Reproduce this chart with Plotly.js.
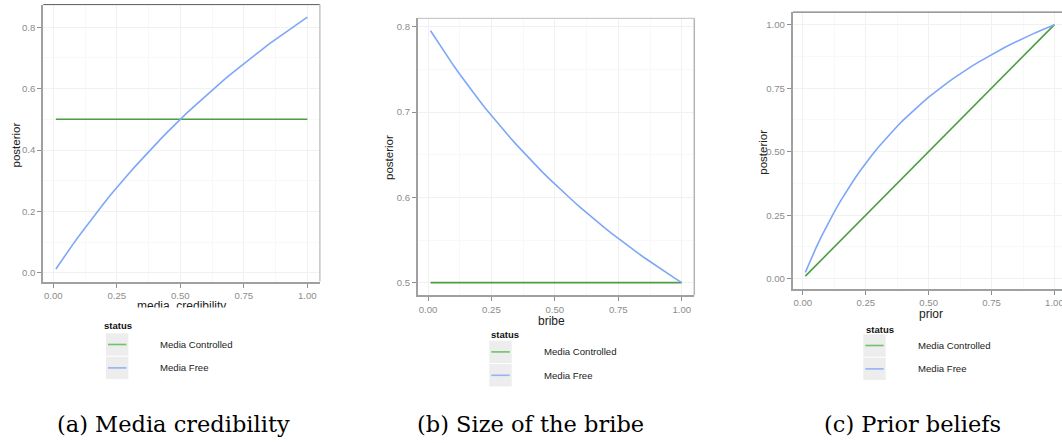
<!DOCTYPE html>
<html><head><meta charset="utf-8">
<script src="https://cdn.plot.ly/plotly-3.0.1.min.js"></script>
<style>html,body{margin:0;padding:0;background:#fff}#chart{width:1062px;height:443px}</style>
</head><body><div id="chart"></div>
<script>
// ---------------- data ----------------
const grid = [0.01,0.025,0.05,0.075,0.1,0.125,0.15,0.175,0.2,0.225,0.25,0.275,0.3,0.325,0.35,0.375,0.4,0.425,0.45,0.475,0.5,0.525,0.55,0.575,0.6,0.625,0.65,0.675,0.7,0.725,0.75,0.775,0.8,0.825,0.85,0.875,0.9,0.925,0.95,0.975,1.0];

const credibility = grid;
const credibilityFree = [0.012,0.031,0.061,0.090,0.119,0.147,0.174,0.201,0.227,0.253,0.278,0.302,0.326,0.349,0.372,0.395,0.417,0.438,0.459,0.480,0.500,0.520,0.539,0.558,0.577,0.595,0.613,0.631,0.648,0.665,0.682,0.698,0.714,0.730,0.746,0.761,0.776,0.791,0.805,0.819,0.833];
const credibilityControlled = [0.5,0.5,0.5,0.5,0.5,0.5,0.5,0.5,0.5,0.5,0.5,0.5,0.5,0.5,0.5,0.5,0.5,0.5,0.5,0.5,0.5,0.5,0.5,0.5,0.5,0.5,0.5,0.5,0.5,0.5,0.5,0.5,0.5,0.5,0.5,0.5,0.5,0.5,0.5,0.5,0.5];

const bribe = grid;
const bribeFree = [0.7952,0.7882,0.7767,0.7656,0.7547,0.7442,0.7339,0.7240,0.7143,0.7048,0.6957,0.6867,0.6780,0.6695,0.6612,0.6531,0.6452,0.6375,0.6299,0.6226,0.6154,0.6084,0.6015,0.5948,0.5882,0.5818,0.5755,0.5694,0.5634,0.5575,0.5517,0.5461,0.5405,0.5351,0.5298,0.5246,0.5195,0.5145,0.5096,0.5047,0.5000];
const bribeControlled = [0.5,0.5,0.5,0.5,0.5,0.5,0.5,0.5,0.5,0.5,0.5,0.5,0.5,0.5,0.5,0.5,0.5,0.5,0.5,0.5,0.5,0.5,0.5,0.5,0.5,0.5,0.5,0.5,0.5,0.5,0.5,0.5,0.5,0.5,0.5,0.5,0.5,0.5,0.5,0.5,0.5];

const prior = grid;
const priorFree = [0.0246,0.0602,0.1163,0.1685,0.2174,0.2632,0.3061,0.3465,0.3846,0.4206,0.4545,0.4867,0.5172,0.5462,0.5738,0.6000,0.6250,0.6489,0.6716,0.6934,0.7143,0.7343,0.7534,0.7718,0.7895,0.8065,0.8228,0.8385,0.8537,0.8683,0.8824,0.8960,0.9091,0.9218,0.9341,0.9459,0.9574,0.9686,0.9794,0.9898,1.0000];
const priorControlled = [0.01,0.025,0.05,0.075,0.1,0.125,0.15,0.175,0.2,0.225,0.25,0.275,0.3,0.325,0.35,0.375,0.4,0.425,0.45,0.475,0.5,0.525,0.55,0.575,0.6,0.625,0.65,0.675,0.7,0.725,0.75,0.775,0.8,0.825,0.85,0.875,0.9,0.925,0.95,0.975,1.0];

const seriesNames = ["Media Controlled", "Media Free"];
const legendTitle = "status";
const xTitles = ["media_credibility", "bribe", "prior"];
const yTitle = "posterior";
const captions = ["(a) Media credibility", "(b) Size of the bribe", "(c) Prior beliefs"];

// ---------------- styling / layout ----------------
const W = 1062, H = 443;
const px = v => v / W;
const py = v => 1 - v / H;
const GREEN = "#4a9e3f", BLUE = "#7ea7f7";
const GREEN_KEY = "#6cc46c", BLUE_KEY = "#94b2f5";
const SANS = "Liberation Sans, Arial, Helvetica, sans-serif";

const panels = [
  {x: credibility, free: credibilityFree, ctrl: credibilityControlled,
   xdom: [43.3, 319.9], ydom: [4.6, 281.5], xr: [-0.0395, 1.0495], yr: [-0.0287, 0.874],
   ydt: 0.2, yminor: 0.1, yfmt: ".1f",
   xt: [181.5, 305.6], yt: [15.5, 145],
   leg: {sx: 102, sy: 325, bx: 106, by: 333.3, tx: 158.3},
   cap: [173, 424], top: "#5a5a5a", right: "#c4c4c4"},
  {x: bribe, free: bribeFree, ctrl: bribeControlled,
   xdom: [418.0, 694.3], ydom: [18.3, 295.3], xr: [-0.0395, 1.0495], yr: [0.4852, 0.8098],
   ydt: 0.1, yminor: 0.05, yfmt: ".1f",
   xt: [551, 320.5], yt: [389, 158],
   leg: {sx: 489.3, sy: 334.3, bx: 489.3, by: 340.7, tx: 542.3},
   cap: [530, 424], top: "#bdbdbd", right: "#b5b5b5"},
  {x: prior, free: priorFree, ctrl: priorControlled,
   xdom: [792.9, 1062], ydom: [12.1, 288.7], xr: [-0.0395, 1.03], yr: [-0.0395, 1.0495],
   ydt: 0.25, yminor: 0.125, yfmt: ".2f",
   xt: [930.7, 314], yt: [762.7, 152],
   leg: {sx: 864, sy: 329.3, bx: 863.3, by: 334.3, tx: 916},
   cap: [912, 424], top: "#5a5a5a", right: null}
];

const data = [];
const layout = {
  width: W, height: H, margin: {l: 0, r: 0, t: 0, b: 0},
  paper_bgcolor: "#fff", plot_bgcolor: "#fff", showlegend: false,
  font: {family: SANS}, annotations: [], shapes: []
};

panels.forEach((p, i) => {
  const n = i === 0 ? "" : String(i + 1);
  const xa = "x" + n, ya = "y" + n;
  data.push({x: p.x, y: p.ctrl, name: seriesNames[0], type: "scatter", mode: "lines",
             line: {color: GREEN, width: 1.6}, xaxis: xa, yaxis: ya, hoverinfo: "skip"});
  data.push({x: p.x, y: p.free, name: seriesNames[1], type: "scatter", mode: "lines",
             line: {color: BLUE, width: 1.6}, xaxis: xa, yaxis: ya, hoverinfo: "skip"});
  const common = {ticks: "outside", ticklen: 4, tickwidth: 1, tickcolor: "#8f8f8f",
    showline: true, linecolor: "#a0a0a0", linewidth: 2, showgrid: true, gridcolor: "#f1f1f1",
    gridwidth: 1, zeroline: false, fixedrange: true, ticklabeloverflow: "allow",
    tickfont: {family: SANS, size: 9.6, color: "#8c8c8c"}};
  layout["xaxis" + n] = Object.assign({}, common, {
    domain: [px(p.xdom[0]), px(p.xdom[1])], range: p.xr, anchor: ya,
    tickmode: "linear", tick0: 0, dtick: 0.25, tickformat: ".2f",
    minor: {tick0: 0, dtick: 0.125, showgrid: true, gridcolor: "#f8f8f8", ticks: ""}});
  layout["yaxis" + n] = Object.assign({}, common, {
    domain: [py(p.ydom[1]), py(p.ydom[0])], range: p.yr, anchor: xa,
    tickmode: "linear", tick0: 0, dtick: p.ydt, tickformat: p.yfmt,
    minor: {tick0: 0, dtick: p.yminor, showgrid: true, gridcolor: "#f8f8f8", ticks: ""}});

  // panel border (top / right)
  layout.shapes.push({type: "line", xref: xa + " domain", yref: ya + " domain",
    x0: 0, x1: 1, y0: 1, y1: 1, line: {color: p.top, width: 1}, layer: "above"});
  if (p.right) layout.shapes.push({type: "line", xref: xa + " domain", yref: ya + " domain",
    x0: 1, x1: 1, y0: 0, y1: 1, line: {color: p.right, width: 1.5}, layer: "above"});

  // axis titles
  layout.annotations.push({text: xTitles[i], xref: "paper", yref: "paper",
    x: px(p.xt[0]), y: py(p.xt[1]), xanchor: "center", yanchor: "middle", showarrow: false,
    font: {family: SANS, size: 12, color: "#222"}});
  layout.annotations.push({text: yTitle, xref: "paper", yref: "paper", textangle: -90,
    x: px(p.yt[0]), y: py(p.yt[1]), xanchor: "center", yanchor: "middle", showarrow: false,
    font: {family: SANS, size: 11.5, color: "#222"}});

  // legend (drawn as in the reference: grey key boxes)
  const L = p.leg, bs = 22.4;
  layout.annotations.push({text: "<b>" + legendTitle + "</b>", xref: "paper", yref: "paper",
    x: px(L.sx), y: py(L.sy), xanchor: "left", yanchor: "middle", showarrow: false,
    font: {family: SANS, size: 9.5, color: "#111"}});
  [GREEN_KEY, BLUE_KEY].forEach((c, k) => {
    const top = L.by + k * (bs + 1);
    layout.shapes.push({type: "rect", xref: "paper", yref: "paper",
      x0: px(L.bx), x1: px(L.bx + bs), y0: py(top + bs), y1: py(top),
      fillcolor: "#ededed", line: {width: 0}, layer: "above"});
    layout.shapes.push({type: "line", xref: "paper", yref: "paper",
      x0: px(L.bx + 2), x1: px(L.bx + bs - 2), y0: py(top + bs / 2), y1: py(top + bs / 2),
      line: {color: c, width: 1.6}, layer: "above"});
    layout.annotations.push({text: seriesNames[k], xref: "paper", yref: "paper",
      x: px(L.tx), y: py(top + bs / 2), xanchor: "left", yanchor: "middle", showarrow: false,
      font: {family: SANS, size: 9.6, color: "#222"}});
  });

  // caption
  layout.annotations.push({text: captions[i], xref: "paper", yref: "paper",
    x: px(p.cap[0]), y: py(p.cap[1]), xanchor: "center", yanchor: "middle", showarrow: false,
    font: {family: "DejaVu Serif, Liberation Serif, serif", size: 22.5, color: "#000"}});
});

// the reference figure is cropped through the first x-axis title
layout.annotations.push({text: " ", xref: "paper", yref: "paper", x: px(181.5), y: py(313),
  xanchor: "center", yanchor: "middle", showarrow: false, width: 130, height: 11,
  bgcolor: "#fff", borderpad: 0});

Plotly.newPlot("chart", data, layout, {staticPlot: true, displayModeBar: false});
</script></body></html>
